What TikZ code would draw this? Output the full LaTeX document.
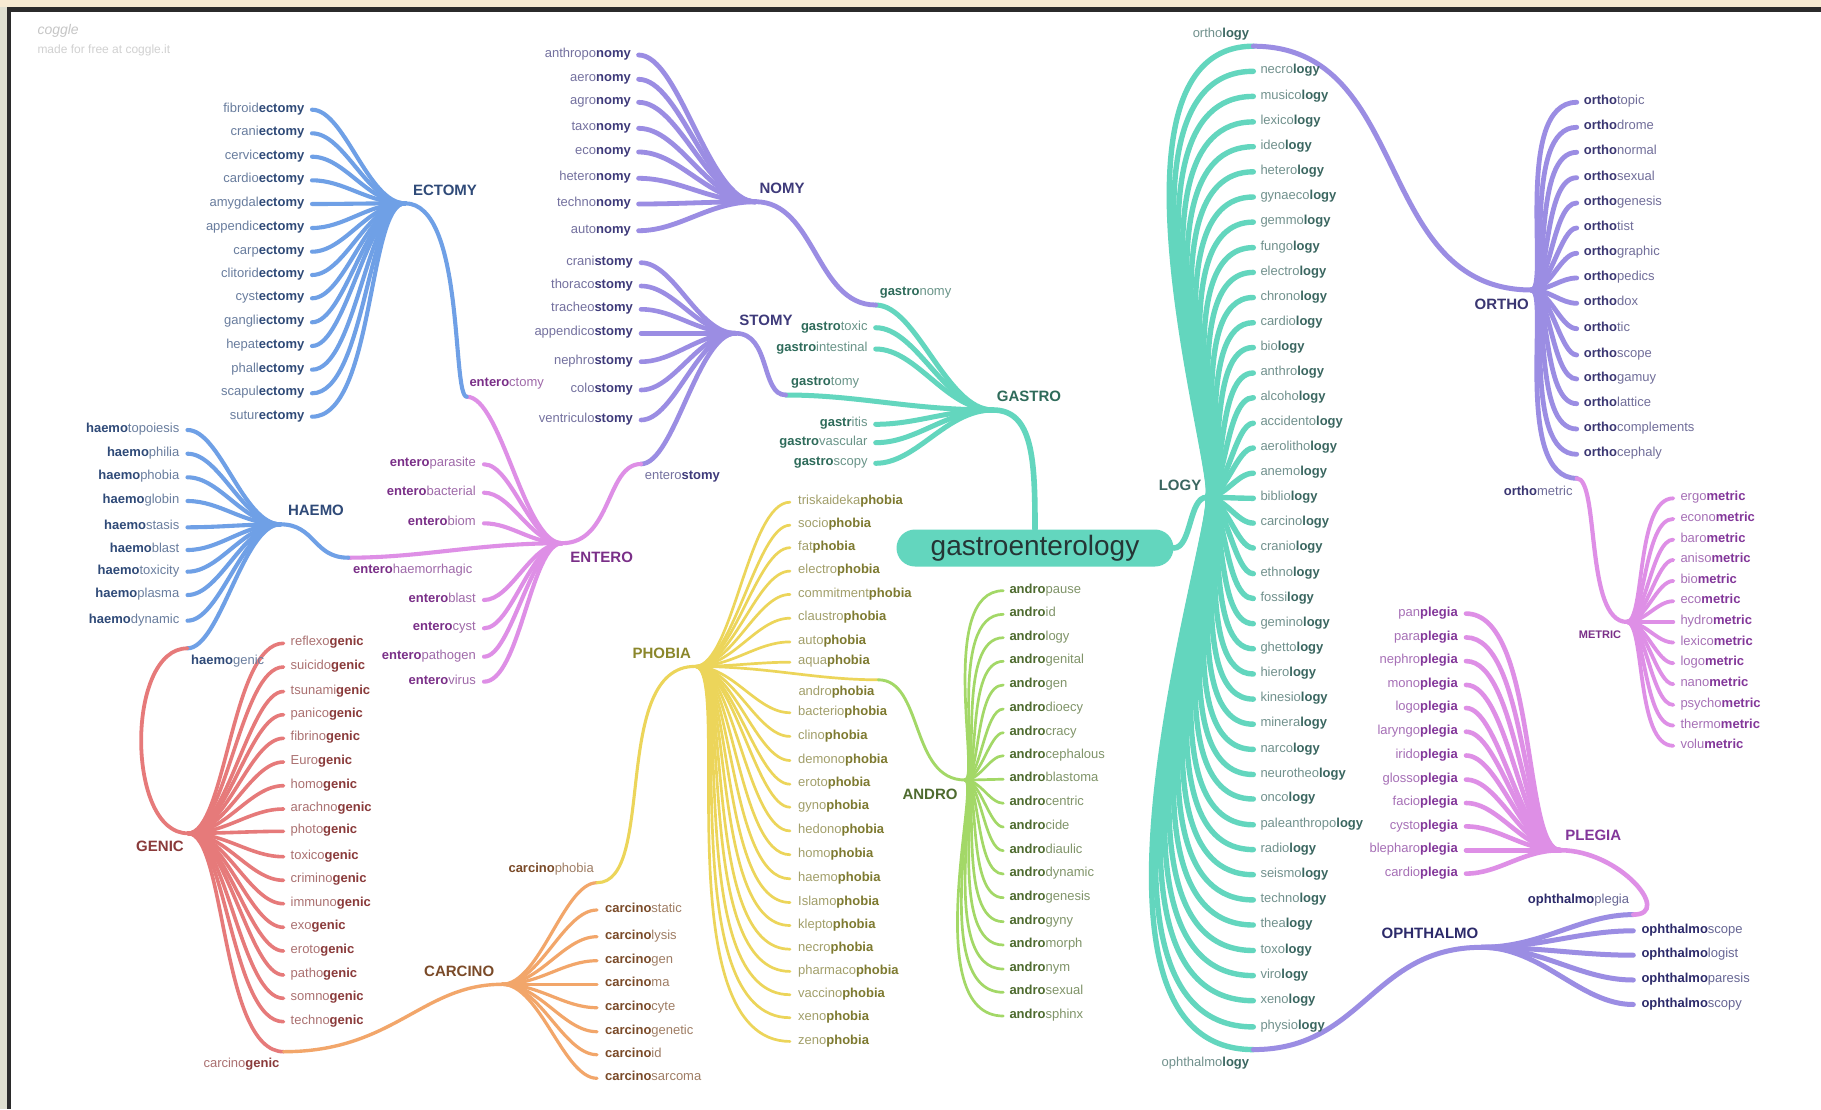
\documentclass[tikz,border=0pt]{standalone}
\usepackage{fontspec}
\setmainfont{Liberation Sans}
\usetikzlibrary{calc}
\pgfdeclarelayer{back}
\pgfdeclarelayer{lines}
\pgfsetlayers{back,lines,main}

\definecolor{cBlue}{HTML}{6FA0E6}
\definecolor{cRed}{HTML}{E67A7A}
\definecolor{cOrange}{HTML}{F2A66A}
\definecolor{cYellow}{HTML}{ECD55A}
\definecolor{cGreen}{HTML}{A3D867}
\definecolor{cPink}{HTML}{DE8FE6}
\definecolor{cPurple}{HTML}{9B8DE3}
\definecolor{cTeal}{HTML}{63D6BE}
\definecolor{tBlue}{HTML}{2F4A78}
\definecolor{tRed}{HTML}{8A3A3A}
\definecolor{tBrown}{HTML}{7A4A28}
\definecolor{tOlive}{HTML}{7E7A30}
\definecolor{tGreen}{HTML}{4E6B2F}
\definecolor{tEntero}{HTML}{7A2F88}
\definecolor{tPurple}{HTML}{3E3A7A}
\definecolor{tTeal}{HTML}{2E6B5A}
\definecolor{tLogy}{HTML}{3A6660}
\definecolor{tOrtho}{HTML}{3A3672}
\definecolor{tPlegia}{HTML}{83379A}
\definecolor{tOph}{HTML}{2C2A6A}
\definecolor{rootText}{HTML}{253535}
\definecolor{bandTop}{HTML}{F7EAD2}
\definecolor{bandLeft}{HTML}{DFDFD0}
\definecolor{frameC}{HTML}{2B2B2B}
\definecolor{wmark}{HTML}{C6C6C6}

\newcommand\lite[1]{{\color{.!72!white}#1}}
\newcommand\Pb[2]{\lite{#1}\textbf{#2}}
\newcommand\Bp[2]{\textbf{#1}\lite{#2}}

\tikzset{
  fan/.style={to path={let \p1=(\tikztostart), \p2=(\tikztotarget),
      \n1={\x2-\x1}, \n2={abs(\y2-\y1)}, \n3={0.4*(\n1)},
      \n4={(-1)*(\n1)/abs(\n1)*max(0.35*abs(\n1),0.4*(\n2)-0.25*abs(\n1))}
      in .. controls +(\n3,0pt) and +(\n4,0pt) .. (\tikztotarget)}},
  lf/.style={font=\fontsize{13}{15}\selectfont, inner sep=0pt},
  lfL/.style={lf, anchor=mid east},
  lfR/.style={lf, anchor=mid west},
  hubt/.style={font=\fontsize{15}{17}\selectfont\bfseries, inner sep=0pt, anchor=center},
  ln/.style={line cap=round, line width=#1},
}

\begin{document}
\begin{tikzpicture}[x=1pt,y=-1pt]
\useasboundingbox (0,0) rectangle (1821,1109);
\begin{pgfonlayer}{back}
\fill[white] (0,0) rectangle (1821,1109);
\fill[bandTop] (0,0) rectangle (1821,7);
\fill[bandLeft] (0,7) rectangle (7,1109);
\fill[frameC] (7,7) rectangle (1821,12.3);
\fill[frameC] (7,7) rectangle (11.3,1109);
\end{pgfonlayer}

% watermark
\node[anchor=mid west, inner sep=0pt, text=wmark, font=\fontsize{14}{16}\selectfont\itshape] (wm1) at (37.3,31.7) {coggle};
\node[anchor=mid west, inner sep=0pt, text=wmark!80!white, font=\fontsize{12}{14}\selectfont] (wm2) at (37.3,51) {made for free at coggle.it};

% hubs
\coordinate (ecthub) at (405,203.3);
\coordinate (haehub) at (280.4,524.3);
\coordinate (genhub) at (187.8,833.3);
\coordinate (carhub) at (502,984.3);
\coordinate (phohub) at (695,666.4);
\coordinate (andhub) at (965,780);
\coordinate (enthub) at (562,543.2);
\coordinate (stohub) at (735.7,333.3);
\coordinate (nomhub) at (755.4,201.7);
\coordinate (gashub) at (992.9,410);
\coordinate (loghub) at (1206.7,497.3);
\coordinate (orthub) at (1531.7,290);
\coordinate (methub) at (1626.7,621.9);
\coordinate (plehub) at (1560,850.2);
\coordinate (ophhub) at (1481.7,947.3);

% junctions
\coordinate (J1) at (466.7,396.7);
\coordinate (J2) at (348.2,557.7);
\coordinate (J3) at (641,464);
\coordinate (J4) at (187.5,648.3);
\coordinate (J5) at (283.7,1051.7);
\coordinate (J6) at (597,882.7);
\coordinate (J7) at (878.3,679.8);
\coordinate (J8) at (875.7,305);
\coordinate (J9) at (785.7,395);
\coordinate (J10) at (1253.3,46.2);
\coordinate (J11) at (1253.3,1049.6);
\coordinate (J12) at (1576.7,478.3);
\coordinate (J13) at (1633.3,914.6);

% root
\node[fill=cTeal, rounded corners=18.5pt, minimum width=277pt, minimum height=37pt, inner sep=0pt,
      text=rootText, font=\fontsize{28}{30}\selectfont] (root) at (1035,548) {gastroenterology};

% ---------- ECTOMY
\foreach \yv/\ww [count=\i] in {109.7/fibroid,133.3/crani,156.7/cervic,180.3/cardio,204/amygdal,228/appendic,251.7/carp,275/clitorid,298.3/cyst,322.3/gangli,346/hepat,369.7/phall,393.3/scapul,416.7/sutur}{
  \coordinate (ect\i) at (312,\yv);
  \begin{pgfonlayer}{lines}\draw[ln=4.1pt,draw=cBlue] (ecthub) to[fan] (ect\i);\end{pgfonlayer}
  \node[lfL,text=tBlue] (ectT\i) at ([xshift=-7.5pt]ect\i) {\Pb{\ww}{ectomy}};
}
% ---------- HAEMO
\foreach \yv/\ww [count=\i] in {430/topoiesis,453.7/philia,477.3/phobia,501/globin,527.3/stasis,550/blast,571.7/toxicity,595/plasma,620.7/dynamic}{
  \coordinate (hae\i) at (187.5,\yv);
  \begin{pgfonlayer}{lines}\draw[ln=4.1pt,draw=cBlue] (haehub) to[fan] (hae\i);\end{pgfonlayer}
  \node[lfL,text=tBlue] (haeT\i) at ([xshift=-8pt]hae\i) {\Bp{haemo}{\ww}};
}
% ---------- GENIC
\foreach \yv/\ww [count=\i] in {643.3/reflexo,667/suicido,691.5/tsunami,714.7/panico,738.3/fibrino,762/Euro,785.7/homo,809/arachno,831.3/photo,856.7/toxico,880.3/crimino,903.7/immuno,927.3/exo,951/eroto,975/patho,998.3/somno,1021.7/techno}{
  \coordinate (gen\i) at (283.5,\yv);
  \begin{pgfonlayer}{lines}\draw[ln=3.6pt,draw=cRed] (genhub) to[fan] (gen\i);\end{pgfonlayer}
  \node[lfR,text=tRed] (genT\i) at ([xshift=7pt]gen\i) {\Pb{\ww}{genic}};
}
% ---------- CARCINO
\foreach \yv/\ww [count=\i] in {910/static,936.7/lysis,960.7/gen,984.3/ma,1007.7/cyte,1031.7/genetic,1054.7/id,1078.3/sarcoma}{
  \coordinate (car\i) at (597,\yv);
  \begin{pgfonlayer}{lines}\draw[ln=3.2pt,draw=cOrange] (carhub) to[fan] (car\i);\end{pgfonlayer}
  \node[lfR,text=tBrown] (carT\i) at ([xshift=8pt]car\i) {\Bp{carcino}{\ww}};
}
% ---------- PHOBIA
\foreach \yv/\ww [count=\i] in {502.2/triskaideka,525.2/socio,547.7/fat,571.1/electro,594.4/commitment,618.2/claustro,641.9/auto,662.2/aqua,712.7/bacterio,736.4/clino,760.5/demono,784.2/eroto,807.2/gyno,830.9/hedono,854.7/homo,878.8/haemo,902.5/Islamo,925.5/klepto,949.2/necro,971.4/pharmaco,994.7/vaccino,1017.7/xeno,1041.4/zeno}{
  \coordinate (pho\i) at (790,\yv);
  \begin{pgfonlayer}{lines}\draw[ln=2.7pt,draw=cYellow] (phohub) to[fan] (pho\i);\end{pgfonlayer}
  \node[lfR,text=tOlive] (phoT\i) at ([xshift=8pt]pho\i) {\Pb{\ww}{phobia}};
}
% ---------- ANDRO
\foreach \yv/\ww [count=\i] in {590.7/pause,614.3/id,637.7/logy,661.3/genital,685/gen,709/dioecy,732.7/cracy,755.7/cephalous,779.3/blastoma,803.3/centric,827/cide,850.7/diaulic,874/dynamic,897.7/genesis,921.7/gyny,945/morph,969/nym,992.3/sexual,1016/sphinx}{
  \coordinate (and\i) at (1003.3,\yv);
  \begin{pgfonlayer}{lines}\draw[ln=2.7pt,draw=cGreen] (andhub) to[fan] (and\i);\end{pgfonlayer}
  \node[lfR,text=tGreen] (andT\i) at ([xshift=6pt]and\i) {\Bp{andro}{\ww}};
}
% ---------- ENTERO
\foreach \yv/\ww [count=\i] in {464.3/parasite,492.7/bacterial,523.3/biom,600/blast,628.3/cyst,656.7/pathogen,681.7/virus}{
  \coordinate (ent\i) at (484,\yv);
  \begin{pgfonlayer}{lines}\draw[ln=4.1pt,draw=cPink] (enthub) to[fan] (ent\i);\end{pgfonlayer}
  \node[lfL,text=tEntero] (entT\i) at ([xshift=-8pt]ent\i) {\Bp{entero}{\ww}};
}
% ---------- STOMY
\foreach \yv/\ww [count=\i] in {262.7/crani,286/thoraco,309.3/tracheo,333.3/appendico,361.7/nephro,390/colo,420/ventriculo}{
  \coordinate (sto\i) at (641,\yv);
  \begin{pgfonlayer}{lines}\draw[ln=4.6pt,draw=cPurple] (stohub) to[fan] (sto\i);\end{pgfonlayer}
  \node[lfL,text=tPurple] (stoT\i) at ([xshift=-8pt]sto\i) {\Pb{\ww}{stomy}};
}
% ---------- NOMY
\foreach \yv/\ww [count=\i] in {55/anthropo,79.3/aero,102.3/agro,128.3/taxo,152/eco,178.3/hetero,204/techno,230.7/auto}{
  \coordinate (nom\i) at (638.6,\yv);
  \begin{pgfonlayer}{lines}\draw[ln=4.8pt,draw=cPurple] (nomhub) to[fan] (nom\i);\end{pgfonlayer}
  \node[lfL,text=tPurple] (nomT\i) at ([xshift=-7.6pt]nom\i) {\Pb{\ww}{nomy}};
}
% ---------- GASTRO
\foreach \yv/\bb/\ww [count=\i] in {327.7/gastro/toxic,349/gastro/intestinal,424.3/gastr/itis,442.7/gastro/vascular,463.3/gastro/scopy}{
  \coordinate (gas\i) at (875.7,\yv);
  \begin{pgfonlayer}{lines}\draw[ln=5pt,draw=cTeal] (gashub) to[fan] (gas\i);\end{pgfonlayer}
  \node[lfL,text=tTeal] (gasT\i) at ([xshift=-8pt]gas\i) {\Bp{\bb}{\ww}};
}
% ---------- LOGY
\foreach \yv/\ww [count=\i] in {71.3/necro,96.4/musico,121.9/lexico,146.7/ideo,171.8/hetero,197/gynaeco,222.1/gemmo,247.6/fungo,272.4/electro,297.5/chrono,322.7/cardio,347.5/bio,373/anthro,397.7/alcoho,423.2/accidento,448/aerolitho,473.2/anemo,498.3/biblio,523.1/carcino,548/cranio,573.7/ethno,598.5/fossi,623.7/gemino,648.8/ghetto,674/hiero,699.1/kinesio,724.2/minera,749.4/narco,774.5/neurotheo,799/onco,824.8/paleanthropo,849.6/radio,874.7/seismo,899.9/techno,925/thea,950.5/toxo,975.6/viro,1000.7/xeno,1026.9/physio}{
  \coordinate (log\i) at (1253.3,\yv);
  \begin{pgfonlayer}{lines}\draw[ln=5.4pt,draw=cTeal] (loghub) to[fan] (log\i);\end{pgfonlayer}
  \node[lfR,text=tLogy] (logT\i) at ([xshift=7pt]log\i) {\Pb{\ww}{logy}};
}
% ---------- ORTHO
\foreach \yv/\ww [count=\i] in {102.3/topic,127.3/drome,152.3/normal,177.7/sexual,203/genesis,228/tist,253.3/graphic,278/pedics,303.3/dox,328.7/tic,355/scope,379/gamuy,403.7/lattice,429/complements,454.3/cephaly}{
  \coordinate (ort\i) at (1576.7,\yv);
  \begin{pgfonlayer}{lines}\draw[ln=4.8pt,draw=cPurple] (orthub) to[fan] (ort\i);\end{pgfonlayer}
  \node[lfR,text=tOrtho] (ortT\i) at ([xshift=7pt]ort\i) {\Bp{ortho}{\ww}};
}
% ---------- METRIC
\foreach \yv/\ww [count=\i] in {498.3/ergo,518.9/econo,539.6/baro,559.9/aniso,580.9/bio,601.2/eco,621.9/hydro,642.5/lexico,663.2/logo,684.2/nano,704.9/psycho,725.5/thermo,745.8/volu}{
  \coordinate (met\i) at (1673.3,\yv);
  \begin{pgfonlayer}{lines}\draw[ln=3.8pt,draw=cPink] (methub) to[fan] (met\i);\end{pgfonlayer}
  \node[lfR,text=tPlegia] (metT\i) at ([xshift=7pt]met\i) {\Pb{\ww}{metric}};
}
% ---------- PLEGIA
\foreach \yv/\ww [count=\i] in {613.6/pan,637.4/para,661.1/nephro,684.9/mono,708/logo,731.7/laryngo,755.5/irido,779.6/glosso,803/facio,826.4/cysto,850.2/blepharo,873.6/cardio}{
  \coordinate (ple\i) at (1466,\yv);
  \begin{pgfonlayer}{lines}\draw[ln=4.6pt,draw=cPink] (plehub) to[fan] (ple\i);\end{pgfonlayer}
  \node[lfL,text=tPlegia] (pleT\i) at ([xshift=-8pt]ple\i) {\Pb{\ww}{plegia}};
}
% ---------- OPHTHALMO
\foreach \yv/\ww [count=\i] in {930.8/scope,955.2/logist,980/paresis,1004.5/scopy}{
  \coordinate (oph\i) at (1633.3,\yv);
  \begin{pgfonlayer}{lines}\draw[ln=5pt,draw=cPurple] (ophhub) to[fan] (oph\i);\end{pgfonlayer}
  \node[lfR,text=tOph] (ophT\i) at ([xshift=8pt]oph\i) {\Bp{ophthalmo}{\ww}};
}

% ---------- junction legs and links
\begin{pgfonlayer}{lines}
\draw[ln=4.1pt,draw=cPink] (enthub) to[fan] (J1);
\draw[ln=4.1pt,draw=cBlue] (ecthub) .. controls +(60,0) and +(-15,0) .. (J1);
\draw[ln=4.1pt,draw=cPink] (enthub) to[fan] (J2);
\draw[ln=4.1pt,draw=cBlue] (haehub) .. controls +(35,0) and +(-35,0) .. (J2);
\draw[ln=4.6pt,draw=cPurple] (stohub) to[fan] (J3);
\draw[ln=4.1pt,draw=cPink] (enthub) .. controls +(50,0) and +(-35,0) .. (J3);
\draw[ln=4.1pt,draw=cBlue] (haehub) to[fan] (J4);
\draw[ln=3.8pt,draw=cRed] (genhub) .. controls +(-62,0) and +(-62,0) .. (J4);
\draw[ln=3.6pt,draw=cRed] (genhub) to[fan] (J5);
\draw[ln=3.4pt,draw=cOrange] (carhub) .. controls +(-80,0) and +(110,0) .. (J5);
\draw[ln=3.2pt,draw=cOrange] (carhub) to[fan] (J6);
\draw[ln=3.1pt,draw=cYellow] (phohub) .. controls +(-85,0) and +(60,0) .. (J6);
\draw[ln=2.7pt,draw=cYellow] (phohub) to[fan] (J7);
\draw[ln=2.9pt,draw=cGreen] (andhub) .. controls +(-55,0) and +(45,0) .. (J7);
\draw[ln=5pt,draw=cTeal] (gashub) to[fan] (J8);
\draw[ln=4.8pt,draw=cPurple] (nomhub) .. controls +(60,0) and +(-60,0) .. (J8);
\draw[ln=5pt,draw=cTeal] (gashub) to[fan] (J9);
\draw[ln=4.6pt,draw=cPurple] (stohub) .. controls +(35,0) and +(-25,0) .. (J9);
\draw[ln=5.4pt,draw=cTeal] (loghub) to[fan] (J10);
\draw[ln=5pt,draw=cPurple] (orthub) .. controls +(-160,0) and +(160,0) .. (J10);
\draw[ln=5.4pt,draw=cTeal] (loghub) to[fan] (J11);
\draw[ln=5pt,draw=cPurple] (ophhub) .. controls +(-110,0) and +(110,0) .. (J11);
\draw[ln=4.8pt,draw=cPurple] (orthub) to[fan] (J12);
\draw[ln=4.2pt,draw=cPink] (methub) .. controls +(-42,0) and +(23,0) .. (J12);
\draw[ln=5pt,draw=cPurple] (ophhub) to[fan] (J13);
\draw[ln=4.6pt,draw=cPink] (plehub) .. controls +(60,0) and +(40,0) .. (J13);
\draw[ln=5.6pt,draw=cTeal] (gashub) .. controls +(40,0) and +(0,-70) .. (root.north);
\draw[ln=5.6pt,draw=cTeal] (root.east) .. controls +(18,0) and +(-18,0) .. (loghub);
\end{pgfonlayer}

% ---------- junction labels
\node[lfR,text=tEntero] (jl1) at (469.3,384) {\Bp{entero}{ctomy}};
\node[lfR,text=tEntero] (jl2) at (352.9,571) {\Bp{entero}{haemorrhagic}};
\node[lfR,text=tPurple] (jl3) at (644.6,477.3) {\Pb{entero}{stomy}};
\node[lfR,text=tBlue] (jl4) at (191,661.7) {\Bp{haemo}{genic}};
\node[lfL,text=tRed] (jl5) at (279.6,1065) {\Pb{carcino}{genic}};
\node[lfL,text=tBrown] (jl6) at (594,870) {\Bp{carcino}{phobia}};
\node[lfR,text=tOlive] (jl7) at (798.3,693.2) {\Pb{andro}{phobia}};
\node[lfR,text=tTeal] (jl8) at (879.6,293.3) {\Bp{gastro}{nomy}};
\node[lfR,text=tTeal] (jl9) at (791,382.7) {\Bp{gastro}{tomy}};
\node[lfL,text=tLogy] (jl10) at (1249.3,34.8) {\Pb{ortho}{logy}};
\node[lfL,text=tLogy] (jl11) at (1249.3,1064.1) {\Pb{ophthalmo}{logy}};
\node[lfL,text=tOrtho] (jl12) at (1572.7,492.7) {\Bp{ortho}{metric}};
\node[lfL,text=tOph] (jl13) at (1629.3,901.1) {\Bp{ophthalmo}{plegia}};

% ---------- hub labels
\node[hubt,text=tBlue] (ectL) at (445,190) {ECTOMY};
\node[hubt,text=tBlue] (haeL) at (316,510.7) {HAEMO};
\node[hubt,text=tRed] (genL) at (160,846.7) {GENIC};
\node[hubt,text=tBrown] (carL) at (459.2,971) {CARCINO};
\node[hubt,text=tOlive!90!yellow] (phoL) at (661.7,653) {PHOBIA};
\node[hubt,text=tGreen] (andL) at (930,794) {ANDRO};
\node[hubt,text=tEntero] (entL) at (601.7,557.3) {ENTERO};
\node[hubt,text=tPurple] (stoL) at (766,320) {STOMY};
\node[hubt,text=tPurple] (nomL) at (782,188.3) {NOMY};
\node[hubt,text=tTeal] (gasL) at (1029,396.7) {GASTRO};
\node[hubt,text=tLogy] (logL) at (1180,485.2) {LOGY};
\node[hubt,text=tOrtho] (ortL) at (1501.7,304) {ORTHO};
\node[hubt,text=tEntero,font=\fontsize{11}{13}\selectfont\bfseries] (metL) at (1600,634.3) {METRIC};
\node[hubt,text=tPlegia] (pleL) at (1593.3,835.7) {PLEGIA};
\node[hubt,text=tOph] (ophL) at (1430,933.5) {OPHTHALMO};
\end{tikzpicture}
\end{document}
